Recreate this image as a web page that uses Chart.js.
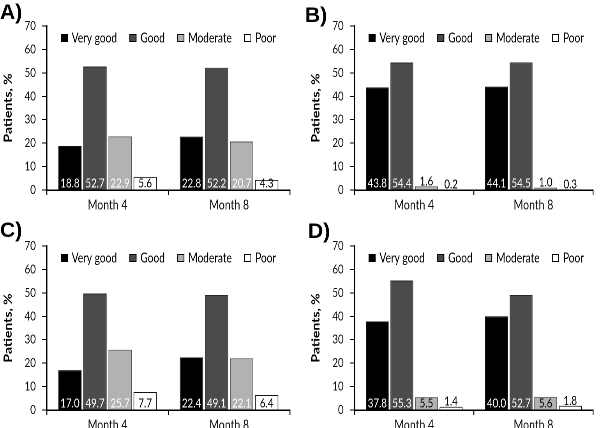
<!DOCTYPE html>
<html>
<head>
<meta charset="utf-8">
<script src="https://cdn.jsdelivr.net/npm/chart.js@4.4.1/dist/chart.umd.min.js"></script>
<style>
  html, body { margin: 0; padding: 0; background: #fff; }
  #wrap { position: relative; width: 600px; height: 428px; overflow: hidden; }
  .panel { position: absolute; width: 300px; height: 214px; overflow: hidden; }
  /* the source figure is horizontally squeezed, so draw wider and squeeze */
  .panel canvas { transform: scaleX(0.779221); transform-origin: 0 0; }
</style>
</head>
<body>
<div id="wrap">
  <div class="panel" style="left:0;top:0"><canvas id="cA" width="385" height="214"></canvas></div>
  <div class="panel" style="left:300px;top:0"><canvas id="cB" width="385" height="214"></canvas></div>
  <div class="panel" style="left:0;top:214px"><canvas id="cC" width="385" height="214"></canvas></div>
  <div class="panel" style="left:300px;top:214px"><canvas id="cD" width="385" height="214"></canvas></div>
</div>
<script>
const categories = ['Month 4', 'Month 8'];
const seriesNames = ['Very good', 'Good', 'Moderate', 'Poor'];
const yTicks = [0, 10, 20, 30, 40, 50, 60, 70];

// A)
const aVeryGood = [18.8, 22.8];
const aGood = [52.7, 52.2];
const aModerate = [22.9, 20.7];
const aPoor = [5.6, 4.3];
// B)
const bVeryGood = [43.8, 44.1];
const bGood = [54.4, 54.5];
const bModerate = [1.6, 1.0];
const bPoor = [0.2, 0.3];
// C)
const cVeryGood = [17.0, 22.4];
const cGood = [49.7, 49.1];
const cModerate = [25.7, 22.1];
const cPoor = [7.7, 6.4];
// D) bar for Good at Month 8 is drawn lower than its printed label
const dVeryGood = [37.8, 40.0];
const dGood = [55.3, 49.1];
const dGoodText = ['55.3', '52.7'];
const dModerate = [5.5, 5.6];
const dPoor = [1.4, 1.8];

const K = 300 / 385; // horizontal squeeze
const fills = ['#000000', '#4b4b4b', '#b2b2b2', '#ffffff'];
const borders = ['#111111', '#2a2a2a', '#5a5a5a', '#111111'];
const FONT = "Lato, sans-serif";

// value labels at the foot of each bar
const barLabels = {
  id: 'barLabels',
  afterDatasetsDraw(chart) {
    const ctx = chart.ctx;
    ctx.save();
    ctx.font = '12.5px ' + FONT;
    ctx.textAlign = 'center';
    ctx.textBaseline = 'alphabetic';
    chart.data.datasets.forEach((ds, i) => {
      chart.getDatasetMeta(i).data.forEach((bar, j) => {
        const txt = ds.texts ? ds.texts[j] : ds.data[j].toFixed(1);
        const h = bar.base - bar.y;
        if (h >= 8) {
          ctx.fillStyle = (i < 2 || (i === 2 && ds.data[j] > 10)) ? '#fff' : '#000';
          ctx.fillText(txt, bar.x, bar.base - 2);
        } else {
          ctx.fillStyle = '#000';
          ctx.fillText(txt, bar.x, bar.y - 1);
        }
      });
    });
    ctx.restore();
  }
};

// legend inside the plot area + panel letter
const panelDeco = {
  id: 'panelDeco',
  afterDraw(chart, args, opts) {
    const ctx = chart.ctx;
    const area = chart.chartArea;
    ctx.save();
    ctx.font = '13px ' + FONT;
    ctx.textBaseline = 'middle';
    let x = area.left + 18;
    const y = area.top + 12;
    chart.data.datasets.forEach((ds, i) => {
      ctx.fillStyle = ds.backgroundColor;
      ctx.fillRect(x, y - 4, 9, 8);
      ctx.strokeStyle = '#000';
      ctx.lineWidth = 1;
      ctx.strokeRect(x + 0.5, y - 3.5, 8, 7);
      ctx.fillStyle = '#000';
      ctx.fillText(ds.label, x + 14, y + 0.5);
      x += 14 + ctx.measureText(ds.label).width + 16;
    });
    ctx.font = 'bold 21px "Liberation Sans", Arial, sans-serif';
    ctx.textBaseline = 'alphabetic';
    ctx.scale(1 / K, 1);
    ctx.fillText(opts.letter, opts.lx, opts.ly);
    ctx.restore();
  }
};

function makePanel(id, letter, lx, ly, series, texts, pad, xh) {
  const datasets = series.map((vals, i) => ({
    label: seriesNames[i],
    data: vals,
    texts: texts[i],
    backgroundColor: fills[i],
    borderColor: borders[i],
    borderWidth: 1,
    categoryPercentage: 0.825,
    barPercentage: 0.93
  }));
  new Chart(document.getElementById(id), {
    type: 'bar',
    data: { labels: categories, datasets: datasets },
    plugins: [barLabels, panelDeco],
    options: {
      responsive: false,
      devicePixelRatio: 2,
      animation: false,
      layout: { padding: pad },
      plugins: {
        legend: { display: false },
        tooltip: { enabled: false },
        panelDeco: { letter: letter, lx: lx, ly: ly }
      },
      scales: {
        x: {
          afterFit: s => { s.height = xh; },
          grid: { display: true, offset: true, drawOnChartArea: false, tickLength: 5, color: '#000', lineWidth: 1.2 },
          border: { display: true, color: '#000', width: 1.5 },
          ticks: { color: '#111', font: { family: FONT, size: 13.5 }, padding: 2 }
        },
        y: {
          min: 0,
          max: 70,
          afterFit: s => { s.width = 60; },
          afterBuildTicks: s => { s.ticks = yTicks.map(v => ({ value: v })); },
          grid: { display: true, drawOnChartArea: false, tickLength: 6, color: '#000', lineWidth: 1 },
          border: { display: true, color: '#000', width: 1.8 },
          ticks: { color: '#111', font: { family: FONT, size: 12.5 }, padding: 8 },
          title: {
            display: true,
            text: 'Patients, %',
            color: '#000',
            font: { family: FONT, size: 14, weight: 'bold' },
            padding: { top: 2, bottom: 0 }
          }
        }
      }
    }
  });
}

const none = [null, null, null, null];
makePanel('cA', 'A)', 0, 19, [aVeryGood, aGood, aModerate, aPoor], none,
  { left: 0, top: 26, right: 13, bottom: 0 }, 24);
makePanel('cB', 'B)', 5, 22, [bVeryGood, bGood, bModerate, bPoor], none,
  { left: 10, top: 26, right: 9, bottom: 0 }, 24);
makePanel('cC', 'C)', 0, 23, [cVeryGood, cGood, cModerate, cPoor], none,
  { left: 0, top: 32, right: 13, bottom: 0 }, 18);
makePanel('cD', 'D)', 8, 24, [dVeryGood, dGood, dModerate, dPoor], [null, dGoodText, null, null],
  { left: 10, top: 32, right: 9, bottom: 0 }, 18);
</script>
</body>
</html>
